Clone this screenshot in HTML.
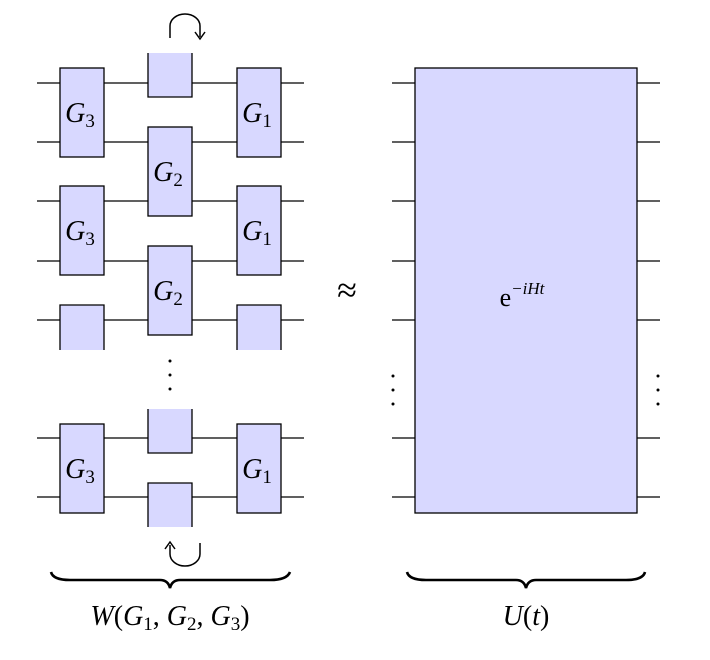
<!DOCTYPE html>
<html><head><style>body{margin:0;background:#fff}svg{display:block}</style></head><body>
<svg width="710" height="660" viewBox="0 0 710 660" xmlns="http://www.w3.org/2000/svg" font-family="Liberation Serif, serif">
<g stroke="#000" stroke-width="1.3">
<line x1="37" y1="83" x2="304" y2="83"/><line x1="37" y1="142" x2="304" y2="142"/>
<line x1="37" y1="201" x2="304" y2="201"/><line x1="37" y1="261" x2="304" y2="261"/>
<line x1="37" y1="320" x2="304" y2="320"/><line x1="37" y1="438" x2="304" y2="438"/>
<line x1="37" y1="497" x2="304" y2="497"/>
<line x1="392" y1="83" x2="660" y2="83"/><line x1="392" y1="142" x2="660" y2="142"/>
<line x1="392" y1="201" x2="660" y2="201"/><line x1="392" y1="261" x2="660" y2="261"/>
<line x1="392" y1="320" x2="660" y2="320"/><line x1="392" y1="438" x2="660" y2="438"/>
<line x1="392" y1="497" x2="660" y2="497"/>
</g>
<g fill="#d8d8ff" stroke="#000" stroke-width="1.3">
<rect x="60" y="68" width="44" height="89"/><rect x="60" y="186" width="44" height="89"/>
<rect x="148" y="127" width="44" height="89"/><rect x="148" y="246" width="44" height="89"/>
<rect x="237" y="68" width="44" height="89"/><rect x="237" y="186" width="44" height="89"/>
<rect x="60" y="424" width="44" height="89"/><rect x="237" y="424" width="44" height="89"/>
<rect x="415" y="68" width="222" height="445"/>
</g>
<g fill="#d8d8ff" stroke="#000" stroke-width="1.3">
<path d="M148 53 V97 H192 V53"/>
<path d="M60 350 V305 H104 V350"/>
<path d="M237 350 V305 H281 V350"/>
<path d="M148 409 V453 H192 V409"/>
<path d="M148 527 V483 H192 V527"/>
</g>
<g fill="none" stroke="#000" stroke-width="1.5">
<path d="M170 38 V26 A15 12 0 0 1 200 26 V37"/>
<path d="M200 543 V554 A15 12 0 0 1 170 554 V545"/>
<path d="M195 32 L200 39 L205 32"/>
<path d="M165 549 L170 542 L175 549"/>
</g>
<g fill="none" stroke="#000" stroke-width="2.6">
<path d="M51 572 Q53 580 70 580 H160 Q168 580 170 588 Q172 580 180 580 H270 Q287 580 290 572"/>
<path d="M407 572 Q409 580 426 580 H516 Q524 580 526 588 Q528 580 536 580 H626 Q643 580 645 572"/>
</g>
<g fill="#000">
<circle cx="170" cy="361" r="1.5"/><circle cx="170" cy="375" r="1.5"/><circle cx="170" cy="389" r="1.5"/>
<circle cx="393" cy="376" r="1.5"/><circle cx="393" cy="390" r="1.5"/><circle cx="393" cy="404" r="1.5"/>
<circle cx="658" cy="376" r="1.5"/><circle cx="658" cy="390" r="1.5"/><circle cx="658" cy="404" r="1.5"/>
</g>
<g font-size="28" font-style="italic" text-anchor="middle">
<text x="80" y="122">G<tspan font-size="19" font-style="normal" dy="5">3</tspan></text>
<text x="80" y="240">G<tspan font-size="19" font-style="normal" dy="5">3</tspan></text>
<text x="80" y="478">G<tspan font-size="19" font-style="normal" dy="5">3</tspan></text>
<text x="168" y="181">G<tspan font-size="19" font-style="normal" dy="5">2</tspan></text>
<text x="168" y="300">G<tspan font-size="19" font-style="normal" dy="5">2</tspan></text>
<text x="257" y="122">G<tspan font-size="19" font-style="normal" dy="5">1</tspan></text>
<text x="257" y="240">G<tspan font-size="19" font-style="normal" dy="5">1</tspan></text>
<text x="257" y="478">G<tspan font-size="19" font-style="normal" dy="5">1</tspan></text>
</g>
<text x="347" y="302" font-size="36" text-anchor="middle">≈</text>
<text x="522" y="306" font-size="26" text-anchor="middle">e<tspan font-size="17" font-style="italic" dy="-12">−iHt</tspan></text>
<text x="170" y="625" font-size="28" text-anchor="middle"><tspan font-style="italic">W</tspan>(<tspan font-style="italic">G</tspan><tspan font-size="19" dy="5">1</tspan><tspan dy="-5">, </tspan><tspan font-style="italic">G</tspan><tspan font-size="19" dy="5">2</tspan><tspan dy="-5">, </tspan><tspan font-style="italic">G</tspan><tspan font-size="19" dy="5">3</tspan><tspan dy="-5">)</tspan></text>
<text x="526" y="625" font-size="28" text-anchor="middle"><tspan font-style="italic">U</tspan>(<tspan font-style="italic">t</tspan>)</text>
</svg>
</body></html>
